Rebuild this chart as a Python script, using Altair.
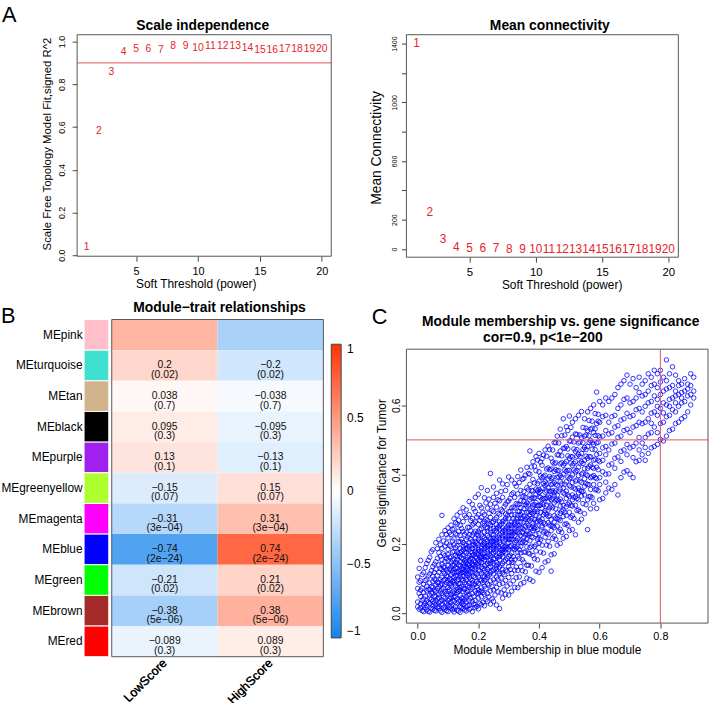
import altair as alt
import pandas as pd

FONT = "Liberation Sans"
MINUS = "\u2212"
FRAME = "#555555"

# ---------------- Panel A : soft threshold ----------------
powers = [1, 2, 3, 4, 5, 6, 7, 8, 9, 10, 11, 12, 13, 14, 15, 16, 17, 18, 19, 20]
scale_fit_r2 = [0.037, 0.583, 0.858, 0.950, 0.966, 0.966, 0.960, 0.977, 0.977, 0.972,
                0.980, 0.980, 0.977, 0.970, 0.960, 0.960, 0.965, 0.965, 0.965, 0.966]
mean_connectivity = [1405, 252, 67, 16, 8, 5, 3.5, 2.5, 2, 1.5,
                     1.2, 1, 0.8, 0.7, 0.6, 0.5, 0.4, 0.4, 0.3, 0.3]
r2_cutoff = 0.9
power_lim = [0.24, 20.76]
r2_lim = [-0.005, 1.032]
k_lim = [-56, 1461]

# ---------------- Panel B : module-trait heatmap ----------------
modules = ["MEpink", "MEturquoise", "MEtan", "MEblack", "MEpurple", "MEgreenyellow",
           "MEmagenta", "MEblue", "MEgreen", "MEbrown", "MEred"]
module_colors = ["#FFC0CB", "#40E0D0", "#D2B48C", "#000000", "#A020F0", "#ADFF2F",
                 "#FF00FF", "#0000FF", "#00FF00", "#A52A2A", "#FF0000"]
traits = ["LowScore", "HighScore"]
cor_lowscore = [0.36, 0.2, 0.038, 0.095, 0.13, -0.15, -0.31, -0.74, -0.21, -0.38, -0.089]
cor_highscore = [-0.36, -0.2, -0.038, -0.095, -0.13, 0.15, 0.31, 0.74, 0.21, 0.38, 0.089]
p_values = ["", "0.02", "0.7", "0.3", "0.1", "0.07", "3e-04", "2e-24", "0.02", "5e-06", "0.3"]
colorbar_ticks = [-1, -0.5, 0, 0.5, 1]

# ---------------- Panel C : MM vs GS scatter ----------------
mm_lim = [-0.037, 0.957]
gs_lim = [-0.029, 0.762]
mm_cutoff = 0.8
gs_cutoff = 0.5
mm_cols = [0.00, 0.01, 0.02, 0.03, 0.04, 0.05, 0.06, 0.07, 0.08, 0.09,
           0.10, 0.11, 0.12, 0.13, 0.14, 0.15, 0.16, 0.17, 0.18, 0.19,
           0.20, 0.21, 0.22, 0.23, 0.24, 0.25, 0.26, 0.27, 0.28, 0.29,
           0.30, 0.31, 0.32, 0.33, 0.34, 0.35, 0.36, 0.37, 0.38, 0.39,
           0.40, 0.41, 0.42, 0.43, 0.44, 0.45, 0.46, 0.47, 0.48, 0.49,
           0.50, 0.51, 0.52, 0.53, 0.54, 0.55, 0.56, 0.57, 0.58, 0.59,
           0.60, 0.61, 0.62, 0.63, 0.64, 0.65, 0.66, 0.67, 0.68, 0.69,
           0.70, 0.71, 0.72, 0.73, 0.74, 0.75, 0.76, 0.77, 0.78, 0.79,
           0.80, 0.81, 0.82, 0.83, 0.84, 0.85, 0.86, 0.87, 0.88, 0.89,
           0.90, 0.91]
gs_cols = [
    [0.032, 0.071, 0.104, 0.018],
    [0.015, 0.048, 0.093, 0.152, 0.027, 0.066],
    [0.004, 0.041, 0.083, 0.117, 0.059, 0.022],
    [0.009, 0.036, 0.064, 0.098, 0.143, 0.021, 0.077],
    [0.003, 0.027, 0.052, 0.087, 0.113, 0.161, 0.043, 0.068],
    [0.012, 0.034, 0.058, 0.074, 0.106, 0.134, 0.183, 0.021, 0.091],
    [0.006, 0.024, 0.047, 0.063, 0.095, 0.127, 0.148, 0.203, 0.035, 0.081],
    [0.013, 0.019, 0.044, 0.076, 0.088, 0.117, 0.139, 0.174, 0.213, 0.055, 0.029],
    [0.002, 0.026, 0.038, 0.057, 0.084, 0.103, 0.126, 0.154, 0.187, 0.226, 0.282, 0.067, 0.141],
    [0.011, 0.017, 0.043, 0.062, 0.081, 0.114, 0.132, 0.166, 0.193, 0.238, 0.097, 0.031, 0.149],
    [0.004, 0.023, 0.036, 0.052, 0.074, 0.093, 0.118, 0.137, 0.151, 0.184, 0.217, 0.246, 0.063, 0.105, 0.169],
    [0.014, 0.021, 0.045, 0.053, 0.078, 0.096, 0.112, 0.124, 0.147, 0.162, 0.193, 0.227, 0.254, 0.084, 0.133, 0.031],
    [0.003, 0.012, 0.034, 0.057, 0.064, 0.087, 0.103, 0.116, 0.138, 0.156, 0.178, 0.197, 0.214, 0.243, 0.272, 0.094, 0.125, 0.046],
    [0.008, 0.027, 0.041, 0.058, 0.073, 0.092, 0.108, 0.129, 0.144, 0.153, 0.176, 0.194, 0.226, 0.257, 0.283, 0.117, 0.066, 0.163],
    [0.002, 0.019, 0.036, 0.051, 0.067, 0.085, 0.104, 0.113, 0.136, 0.148, 0.164, 0.187, 0.206, 0.224, 0.253, 0.291, 0.122, 0.074, 0.174],
    [0.013, 0.024, 0.043, 0.062, 0.071, 0.094, 0.107, 0.126, 0.134, 0.157, 0.168, 0.183, 0.204, 0.236, 0.264, 0.304, 0.117, 0.143, 0.033, 0.192],
    [0.006, 0.032, 0.047, 0.059, 0.083, 0.096, 0.114, 0.123, 0.146, 0.154, 0.173, 0.196, 0.212, 0.233, 0.276, 0.298, 0.132, 0.104, 0.018, 0.186],
    [0.011, 0.022, 0.053, 0.074, 0.086, 0.103, 0.124, 0.137, 0.152, 0.167, 0.184, 0.203, 0.226, 0.247, 0.284, 0.322, 0.144, 0.113, 0.036, 0.193],
    [0.004, 0.034, 0.056, 0.073, 0.094, 0.116, 0.128, 0.143, 0.157, 0.174, 0.196, 0.207, 0.224, 0.254, 0.273, 0.314, 0.166, 0.137, 0.087, 0.186],
    [0.016, 0.037, 0.063, 0.084, 0.103, 0.118, 0.134, 0.147, 0.163, 0.178, 0.194, 0.216, 0.236, 0.263, 0.293, 0.334, 0.186, 0.126, 0.024, 0.206],
    [0.012, 0.043, 0.067, 0.086, 0.104, 0.124, 0.136, 0.153, 0.168, 0.183, 0.197, 0.214, 0.234, 0.256, 0.284, 0.343, 0.176, 0.144, 0.057, 0.224],
    [0.024, 0.047, 0.073, 0.093, 0.114, 0.133, 0.146, 0.163, 0.177, 0.193, 0.206, 0.226, 0.244, 0.276, 0.304, 0.362, 0.156, 0.186, 0.064],
    [0.021, 0.054, 0.077, 0.104, 0.123, 0.137, 0.154, 0.174, 0.186, 0.204, 0.217, 0.234, 0.253, 0.284, 0.333, 0.163, 0.194, 0.094, 0.264],
    [0.033, 0.056, 0.084, 0.103, 0.126, 0.143, 0.164, 0.176, 0.193, 0.207, 0.224, 0.246, 0.267, 0.303, 0.354, 0.184, 0.113, 0.236],
    [0.026, 0.064, 0.093, 0.116, 0.134, 0.153, 0.166, 0.183, 0.196, 0.214, 0.233, 0.254, 0.276, 0.314, 0.403, 0.204, 0.144, 0.243],
    [0.034, 0.067, 0.096, 0.124, 0.143, 0.156, 0.173, 0.194, 0.206, 0.226, 0.244, 0.264, 0.293, 0.334, 0.364, 0.184, 0.113, 0.216],
    [0.023, 0.074, 0.104, 0.126, 0.146, 0.164, 0.184, 0.197, 0.214, 0.234, 0.256, 0.276, 0.306, 0.346, 0.204, 0.136, 0.243],
    [0.013, 0.083, 0.114, 0.133, 0.154, 0.173, 0.186, 0.204, 0.226, 0.243, 0.263, 0.284, 0.324, 0.384, 0.214, 0.164, 0.253],
    [0.043, 0.086, 0.116, 0.143, 0.163, 0.184, 0.194, 0.214, 0.234, 0.246, 0.264, 0.294, 0.334, 0.373, 0.224, 0.174, 0.126],
    [0.054, 0.094, 0.124, 0.153, 0.174, 0.193, 0.213, 0.224, 0.243, 0.263, 0.286, 0.314, 0.354, 0.234, 0.184, 0.274],
    [0.052, 0.103, 0.134, 0.163, 0.184, 0.204, 0.223, 0.236, 0.254, 0.274, 0.293, 0.324, 0.393, 0.244, 0.146, 0.213],
    [0.063, 0.114, 0.146, 0.173, 0.194, 0.213, 0.234, 0.246, 0.263, 0.284, 0.304, 0.343, 0.384, 0.254, 0.224, 0.153],
    [0.074, 0.124, 0.154, 0.184, 0.204, 0.224, 0.243, 0.263, 0.284, 0.303, 0.334, 0.374, 0.256, 0.193, 0.234],
    [0.073, 0.123, 0.164, 0.193, 0.216, 0.234, 0.254, 0.274, 0.294, 0.314, 0.344, 0.394, 0.264, 0.176, 0.283],
    [0.084, 0.134, 0.174, 0.204, 0.224, 0.246, 0.263, 0.284, 0.304, 0.324, 0.354, 0.413, 0.274, 0.193],
    [0.088, 0.147, 0.176, 0.219, 0.241, 0.262, 0.279, 0.301, 0.322, 0.351, 0.389, 0.208, 0.337],
    [0.101, 0.138, 0.191, 0.213, 0.236, 0.258, 0.291, 0.309, 0.318, 0.362, 0.421, 0.276, 0.228],
    [0.097, 0.171, 0.209, 0.229, 0.268, 0.283, 0.297, 0.327, 0.341, 0.372, 0.468, 0.246, 0.401, 0.189],
    [0.092, 0.166, 0.218, 0.251, 0.259, 0.287, 0.312, 0.331, 0.353, 0.386, 0.437, 0.306, 0.238],
    [0.121, 0.179, 0.227, 0.247, 0.281, 0.299, 0.319, 0.342, 0.358, 0.411, 0.452, 0.263, 0.197],
    [0.118, 0.201, 0.229, 0.268, 0.277, 0.311, 0.336, 0.348, 0.381, 0.408, 0.461, 0.216, 0.357],
    [0.131, 0.196, 0.252, 0.271, 0.302, 0.317, 0.329, 0.361, 0.391, 0.427, 0.446, 0.248],
    [0.147, 0.219, 0.257, 0.289, 0.296, 0.331, 0.349, 0.368, 0.398, 0.471, 0.236, 0.379],
    [0.151, 0.228, 0.261, 0.297, 0.321, 0.338, 0.362, 0.387, 0.419, 0.482, 0.279, 0.207],
    [0.121, 0.168, 0.238, 0.269, 0.309, 0.327, 0.351, 0.371, 0.389, 0.447, 0.252, 0.416],
    [0.171, 0.247, 0.281, 0.318, 0.339, 0.348, 0.377, 0.409, 0.431, 0.492, 0.263, 0.222],
    [0.196, 0.251, 0.289, 0.327, 0.341, 0.369, 0.392, 0.411, 0.457, 0.511, 0.272],
    [0.201, 0.267, 0.309, 0.329, 0.358, 0.379, 0.397, 0.431, 0.468, 0.531, 0.288, 0.242],
    [0.216, 0.279, 0.311, 0.347, 0.361, 0.401, 0.427, 0.476, 0.561, 0.297],
    [0.221, 0.282, 0.331, 0.352, 0.379, 0.409, 0.438, 0.481, 0.538, 0.307, 0.258],
    [0.238, 0.291, 0.337, 0.368, 0.388, 0.412, 0.447, 0.497, 0.569, 0.318],
    [0.241, 0.309, 0.341, 0.377, 0.399, 0.427, 0.451, 0.508, 0.551, 0.327, 0.281],
    [0.226, 0.311, 0.358, 0.381, 0.408, 0.437, 0.467, 0.517, 0.561, 0.336],
    [0.262, 0.327, 0.361, 0.397, 0.421, 0.458, 0.491, 0.571, 0.347, 0.298],
    [0.271, 0.338, 0.377, 0.401, 0.437, 0.461, 0.507, 0.582, 0.352],
    [0.287, 0.341, 0.388, 0.417, 0.441, 0.478, 0.511, 0.561, 0.366],
    [0.241, 0.327, 0.371, 0.418, 0.447, 0.481, 0.527, 0.581, 0.397],
    [0.301, 0.357, 0.391, 0.428, 0.451, 0.498, 0.531, 0.591, 0.337],
    [0.317, 0.371, 0.418, 0.441, 0.487, 0.521, 0.601, 0.397],
    [0.302, 0.388, 0.421, 0.458, 0.491, 0.547, 0.638, 0.357],
    [0.327, 0.391, 0.437, 0.461, 0.508, 0.551, 0.611, 0.371],
    [0.331, 0.408, 0.441, 0.477, 0.511, 0.601, 0.567],
    [0.347, 0.401, 0.457, 0.481, 0.527, 0.571, 0.621, 0.378],
    [0.361, 0.427, 0.471, 0.517, 0.551, 0.611, 0.402],
    [0.357, 0.431, 0.488, 0.521, 0.567, 0.621],
    [0.371, 0.447, 0.491, 0.537, 0.571, 0.631, 0.418],
    [0.341, 0.451, 0.507, 0.541, 0.591, 0.651],
    [0.391, 0.467, 0.511, 0.557, 0.601, 0.661, 0.438],
    [0.407, 0.471, 0.527, 0.561, 0.617, 0.671],
    [0.411, 0.487, 0.531, 0.577, 0.621, 0.687, 0.457],
    [0.401, 0.477, 0.521, 0.567, 0.607, 0.661],
    [0.391, 0.481, 0.537, 0.571, 0.611, 0.677, 0.449],
    [0.437, 0.491, 0.541, 0.587, 0.621, 0.651],
    [0.441, 0.507, 0.551, 0.591, 0.637, 0.681, 0.471],
    [0.457, 0.491, 0.547, 0.581, 0.627, 0.661],
    [0.441, 0.507, 0.551, 0.597, 0.631, 0.671, 0.478],
    [0.461, 0.517, 0.561, 0.607, 0.641, 0.691],
    [0.477, 0.521, 0.577, 0.611, 0.657, 0.681, 0.548],
    [0.481, 0.537, 0.581, 0.627, 0.661, 0.701],
    [0.487, 0.521, 0.571, 0.617, 0.651, 0.691, 0.597],
    [0.501, 0.547, 0.591, 0.631, 0.667, 0.701],
    [0.497, 0.551, 0.607, 0.641, 0.681, 0.578],
    [0.511, 0.567, 0.601, 0.647, 0.671, 0.731],
    [0.527, 0.571, 0.617, 0.651, 0.691, 0.597],
    [0.531, 0.587, 0.621, 0.657, 0.711],
    [0.547, 0.581, 0.627, 0.641, 0.687, 0.607],
    [0.551, 0.597, 0.631, 0.657, 0.671],
    [0.561, 0.607, 0.637, 0.661, 0.621],
    [0.567, 0.611, 0.641, 0.677],
    [0.581, 0.627, 0.647, 0.661],
    [0.601, 0.631, 0.657, 0.691],
    [0.621, 0.641, 0.681],
]
# points lying between the columns above (dense part of the cloud)
mm_half = [0.005, 0.015, 0.025, 0.035, 0.045, 0.055, 0.065, 0.075, 0.085, 0.095,
           0.105, 0.115, 0.125, 0.135, 0.145, 0.155, 0.165, 0.175, 0.185, 0.195,
           0.205, 0.215, 0.225, 0.235, 0.245, 0.255, 0.265, 0.275, 0.285, 0.295,
           0.305, 0.315, 0.325, 0.335, 0.345, 0.355, 0.365, 0.375, 0.385, 0.395,
           0.405, 0.415, 0.425, 0.435, 0.445, 0.455, 0.465, 0.475, 0.485, 0.495,
           0.505, 0.515, 0.525, 0.535, 0.545, 0.555, 0.565, 0.575, 0.585, 0.595]
gs_half = [
    [0.011, 0.057, 0.089, 0.129],
    [0.007, 0.036, 0.072, 0.111],
    [0.016, 0.049, 0.094, 0.131, 0.028],
    [0.005, 0.031, 0.069, 0.107, 0.152],
    [0.014, 0.039, 0.076, 0.122, 0.177, 0.058],
    [0.008, 0.029, 0.066, 0.098, 0.141, 0.049, 0.117],
    [0.017, 0.041, 0.071, 0.109, 0.158, 0.186, 0.088],
    [0.006, 0.033, 0.061, 0.097, 0.129, 0.164, 0.197, 0.081],
    [0.015, 0.046, 0.072, 0.094, 0.133, 0.171, 0.208, 0.119],
    [0.007, 0.029, 0.056, 0.088, 0.124, 0.158, 0.202, 0.227, 0.107],
    [0.018, 0.041, 0.068, 0.099, 0.127, 0.161, 0.196, 0.233, 0.085],
    [0.009, 0.037, 0.061, 0.091, 0.118, 0.153, 0.176, 0.208, 0.241, 0.139],
    [0.019, 0.048, 0.079, 0.108, 0.131, 0.167, 0.189, 0.229, 0.261, 0.146],
    [0.006, 0.033, 0.063, 0.097, 0.121, 0.139, 0.171, 0.206, 0.236, 0.268, 0.084],
    [0.016, 0.044, 0.077, 0.098, 0.128, 0.159, 0.178, 0.213, 0.244, 0.117, 0.029],
    [0.009, 0.039, 0.068, 0.088, 0.119, 0.151, 0.176, 0.198, 0.227, 0.282, 0.138],
    [0.021, 0.052, 0.079, 0.109, 0.128, 0.161, 0.188, 0.219, 0.248, 0.141, 0.064],
    [0.014, 0.043, 0.069, 0.097, 0.131, 0.158, 0.177, 0.214, 0.238, 0.267, 0.119],
    [0.026, 0.048, 0.081, 0.107, 0.139, 0.169, 0.199, 0.231, 0.258, 0.301, 0.151],
    [0.019, 0.057, 0.091, 0.112, 0.141, 0.171, 0.201, 0.228, 0.277, 0.159, 0.076],
    [0.028, 0.061, 0.096, 0.121, 0.149, 0.179, 0.208, 0.241, 0.268, 0.161, 0.311],
    [0.031, 0.059, 0.088, 0.129, 0.158, 0.171, 0.198, 0.221, 0.259, 0.291, 0.107],
    [0.038, 0.071, 0.098, 0.139, 0.161, 0.189, 0.212, 0.247, 0.271, 0.118, 0.318],
    [0.047, 0.081, 0.109, 0.131, 0.169, 0.197, 0.219, 0.259, 0.288, 0.151, 0.329],
    [0.041, 0.076, 0.121, 0.148, 0.171, 0.188, 0.227, 0.261, 0.297, 0.208],
    [0.052, 0.089, 0.129, 0.157, 0.178, 0.211, 0.238, 0.271, 0.317, 0.198],
    [0.061, 0.098, 0.119, 0.161, 0.191, 0.219, 0.248, 0.288, 0.327, 0.141],
    [0.058, 0.101, 0.138, 0.169, 0.198, 0.229, 0.257, 0.298, 0.351, 0.181],
    [0.067, 0.111, 0.149, 0.178, 0.208, 0.239, 0.268, 0.307, 0.191],
    [0.078, 0.121, 0.158, 0.187, 0.219, 0.248, 0.281, 0.321, 0.371, 0.201],
    [0.084, 0.126, 0.167, 0.191, 0.232, 0.254, 0.293, 0.331, 0.214],
    [0.093, 0.146, 0.163, 0.211, 0.229, 0.272, 0.306, 0.347, 0.187],
    [0.102, 0.133, 0.188, 0.209, 0.251, 0.271, 0.316, 0.366, 0.236],
    [0.104, 0.158, 0.183, 0.231, 0.252, 0.293, 0.314, 0.377, 0.211],
    [0.122, 0.154, 0.203, 0.233, 0.274, 0.291, 0.336, 0.386, 0.246],
    [0.119, 0.176, 0.204, 0.251, 0.271, 0.313, 0.334, 0.398, 0.226],
    [0.138, 0.173, 0.226, 0.253, 0.292, 0.312, 0.356, 0.403, 0.272],
    [0.136, 0.193, 0.221, 0.273, 0.291, 0.332, 0.354, 0.422, 0.244],
    [0.157, 0.192, 0.244, 0.271, 0.313, 0.333, 0.376, 0.424, 0.293],
    [0.154, 0.213, 0.242, 0.293, 0.311, 0.353, 0.374, 0.442, 0.263],
    [0.176, 0.212, 0.264, 0.291, 0.334, 0.352, 0.396, 0.436, 0.312],
    [0.173, 0.234, 0.261, 0.313, 0.331, 0.374, 0.394, 0.456, 0.284],
    [0.196, 0.231, 0.284, 0.312, 0.353, 0.372, 0.416, 0.453, 0.333],
    [0.193, 0.254, 0.281, 0.333, 0.352, 0.394, 0.414, 0.472, 0.304],
    [0.216, 0.251, 0.304, 0.332, 0.373, 0.392, 0.436, 0.471, 0.353],
    [0.213, 0.274, 0.301, 0.353, 0.372, 0.414, 0.434, 0.492, 0.324],
    [0.236, 0.271, 0.324, 0.352, 0.393, 0.412, 0.456, 0.491],
    [0.233, 0.294, 0.321, 0.373, 0.392, 0.434, 0.454, 0.512],
    [0.256, 0.291, 0.344, 0.372, 0.413, 0.432, 0.476, 0.514],
    [0.253, 0.314, 0.341, 0.393, 0.412, 0.454, 0.474, 0.527],
    [0.276, 0.311, 0.364, 0.392, 0.433, 0.452, 0.496, 0.536],
    [0.273, 0.334, 0.361, 0.413, 0.432, 0.474, 0.494],
    [0.296, 0.331, 0.384, 0.412, 0.453, 0.472, 0.516],
    [0.293, 0.354, 0.381, 0.433, 0.452, 0.494, 0.514],
    [0.316, 0.351, 0.404, 0.432, 0.473, 0.492, 0.536],
    [0.313, 0.374, 0.401, 0.453, 0.472, 0.514, 0.534],
    [0.336, 0.371, 0.424, 0.452, 0.493, 0.512, 0.556],
    [0.333, 0.394, 0.421, 0.473, 0.492, 0.534, 0.554],
    [0.356, 0.391, 0.444, 0.472, 0.513, 0.532, 0.576],
    [0.353, 0.414, 0.441, 0.493, 0.512, 0.554, 0.574],
]

# ======================================================================
RED = "#E8232A"
LINE_RED = "#E8505A"
NOSTROKE = "transparent"


def num_label(v):
    return str(v).replace("-", MINUS)


def note(txt, x, y, size=14, weight="bold", align="center"):
    """Panel letters and panel titles, placed relative to the panel's plot box."""
    return alt.Chart(pd.DataFrame({"t": [txt]})).mark_text(
        fontSize=size, fontWeight=weight, align=align, baseline="alphabetic", color="black"
    ).encode(text="t:N", x=alt.value(x), y=alt.value(y))


def box(xs, ys, xscale, yscale):
    """Plot frame: vertical and horizontal edges at the plot-region limits."""
    dv = pd.DataFrame({"xe": [xs[0], xs[1]], "ya": [ys[0], ys[0]], "yb": [ys[1], ys[1]]})
    dh = pd.DataFrame({"ye": [ys[0], ys[1]], "xa": [xs[0], xs[0]], "xb": [xs[1], xs[1]]})
    vert = alt.Chart(dv).mark_rule(color=FRAME, strokeWidth=1).encode(
        x=alt.X("xe:Q", scale=xscale, axis=None),
        y=alt.Y("ya:Q", scale=yscale, axis=None), y2="yb:Q",
    )
    horiz = alt.Chart(dh).mark_rule(color=FRAME, strokeWidth=1).encode(
        y=alt.Y("ye:Q", scale=yscale, axis=None),
        x=alt.X("xa:Q", scale=xscale, axis=None), x2="xb:Q",
    )
    return [vert, horiz]


# ---------- A1: scale independence ----------
dfA = pd.DataFrame({"power": powers, "r2": scale_fit_r2, "k": mean_connectivity})
dfA["lab"] = dfA["power"].astype(str)
xA_scale = alt.Scale(domain=power_lim, nice=False, zero=False)


def x_power_axis(title_x, label_size):
    return alt.Axis(values=[5, 10, 15, 20], title="Soft Threshold (power)",
                    labelFontSize=label_size, labelPadding=4.5, titleFontSize=12,
                    titleX=title_x, titleY=28, titleBaseline="middle")


yA1_scale = alt.Scale(domain=r2_lim, nice=False, zero=False)
a1_text = alt.Chart(dfA).mark_text(color=RED, fontSize=10.5).encode(
    x=alt.X("power:Q", scale=xA_scale, axis=x_power_axis(120, 11)),
    y=alt.Y("r2:Q", scale=yA1_scale,
            axis=alt.Axis(values=[0, 0.2, 0.4, 0.6, 0.8, 1.0], format=".1f", labelAngle=-90,
                          labelAlign="center", labelBaseline="bottom", labelFontSize=9,
                          labelPadding=6, title="Scale Free Topology Model Fit,signed R^2",
                          titleFontSize=11.5, titleX=-30, titleY=110, titleBaseline="middle")),
    text="lab:N",
)
a1_rule = alt.Chart(pd.DataFrame({"c": [r2_cutoff]})).mark_rule(color=LINE_RED, strokeWidth=1).encode(
    y=alt.Y("c:Q", scale=yA1_scale, axis=None)
)
chartA1 = alt.layer(
    a1_text, a1_rule, *box(power_lim, r2_lim, xA_scale, yA1_scale),
    note("A", -76, -13, size=22, weight="normal", align="left"),
    note("Scale independence", 127, -5),
).resolve_axis(x="independent", y="independent").properties(
    width=257, height=224, view=alt.ViewBackground(stroke=NOSTROKE))

# ---------- A2: mean connectivity ----------
yA2_scale = alt.Scale(domain=k_lim, nice=False, zero=False)
a2_text = alt.Chart(dfA).mark_text(color=RED, fontSize=12).encode(
    x=alt.X("power:Q", scale=xA_scale, axis=x_power_axis(157, 11.5)),
    y=alt.Y("k:Q", scale=yA2_scale,
            axis=alt.Axis(values=[0, 200, 400, 600, 800, 1000, 1200, 1400], labelAngle=-90,
                          labelAlign="center", labelBaseline="bottom", labelFontSize=7,
                          labelPadding=4,
                          labelExpr="indexof([0, 200, 600, 1000, 1400], datum.value) >= 0 ? datum.label : ''",
                          format="d", title="Mean Connectivity", titleFontSize=14,
                          titleX=-30, titleY=114, titleBaseline="middle")),
    text="lab:N",
)
chartA2 = alt.layer(
    a2_text, *box(power_lim, k_lim, xA_scale, yA2_scale),
    note("Mean connectivity", 145, -5),
).resolve_axis(x="independent", y="independent").properties(
    width=275, height=225, view=alt.ViewBackground(stroke=NOSTROKE))

# ---------- B: module-trait heatmap (colour strip + cells in one view) ----------
rows = []
for m, lo, hi, p in zip(modules, cor_lowscore, cor_highscore, p_values):
    for t, v in zip(traits, [lo, hi]):
        lab = "" if p == "" else num_label(v) + "\n(" + p.replace("-", MINUS) + ")"
        rows.append({"module": m, "trait": t, "r": v, "label": lab})
df_heat = pd.DataFrame(rows)
df_mod = pd.DataFrame({"module": modules, "k": ["c"] * len(modules)})

STRIP_RANGE = [7, 32]
CELL_RANGE = [35, 249]

strip_rect = alt.Chart(df_mod).mark_rect(stroke="white", strokeWidth=1).encode(
    x=alt.X("k:N", scale=alt.Scale(range=STRIP_RANGE, paddingInner=0, paddingOuter=0), axis=None),
    y=alt.Y("module:N", sort=modules, scale=alt.Scale(paddingInner=0, paddingOuter=0),
            axis=alt.Axis(title=None, ticks=False, tickSize=0, domain=False, labelFontSize=12,
                          labelPadding=-5, labelColor="black")),
    color=alt.Color("module:N", scale=alt.Scale(domain=modules, range=module_colors),
                    legend=None),
)

heat_base = alt.Chart(df_heat).encode(
    x=alt.X("trait:N", sort=traits,
            scale=alt.Scale(range=CELL_RANGE, paddingInner=0, paddingOuter=0),
            axis=alt.Axis(title=None, orient="bottom", labelAngle=-45, labelAlign="right",
                          labelBaseline="middle", ticks=False, tickSize=0, domain=False,
                          labelFontSize=12.5, labelPadding=4)),
    y=alt.Y("module:N", sort=modules, scale=alt.Scale(paddingInner=0, paddingOuter=0), axis=None),
)
heat_rect = heat_base.mark_rect().encode(
    color=alt.Color(
        "r:Q",
        scale=alt.Scale(domain=[-1, 0, 1], range=["#1482EE", "#FFFFFF", "#FF3300"],
                        interpolate="rgb"),
        legend=alt.Legend(title=None, orient="none", legendX=257, legendY=25,
                          direction="vertical", gradientLength=297, gradientThickness=10,
                          values=colorbar_ticks,
                          labelExpr="replace(format(datum.value, ''), '-', '\u2212')",
                          labelFontSize=12, labelOffset=6, labelBaseline="middle",
                          gradientStrokeColor="#444444", gradientStrokeWidth=1),
    )
)
heat_text = heat_base.mark_text(fontSize=10.5, lineBreak="\n", lineHeight=9.5,
                                color="#111111").encode(text="label:N")
heat_frame = box([0, 1], [0, 1], alt.Scale(domain=[0, 1], range=CELL_RANGE),
                 alt.Scale(domain=[0, 1]))
chartB = alt.layer(
    strip_rect, heat_rect, heat_text, *heat_frame,
    note("B", -77, 4, size=22, weight="normal", align="left"),
    note("Module\u2212trait relationships", 144, -8),
).resolve_scale(x="independent", y="independent", color="independent").properties(
    width=249, height=341, view=alt.ViewBackground(stroke=NOSTROKE),
)

# ---------- C: scatter ----------
mm_vals, gs_vals = [], []
for xs_list, ys_list in ((mm_cols, gs_cols), (mm_half, gs_half)):
    for xv, ys in zip(xs_list, ys_list):
        for yv in ys:
            mm_vals.append(xv)
            gs_vals.append(yv)
df_c = pd.DataFrame({"mm": mm_vals, "gs": gs_vals})

C_TOP_GAP = 30  # pixels between the top of panel B and the plot box of panel C
C_H = 277
gs_top = gs_lim[1] + C_TOP_GAP * (gs_lim[1] - gs_lim[0]) / C_H
xC_scale = alt.Scale(domain=mm_lim, nice=False, zero=False)
yC_scale = alt.Scale(domain=[gs_lim[0], gs_top], nice=False, zero=False)

c_pts = alt.Chart(df_c).mark_point(shape="circle", filled=False, color="#0000FF", size=21,
                                   strokeWidth=1, opacity=0.8).encode(
    x=alt.X("mm:Q", scale=xC_scale,
            axis=alt.Axis(values=[0, 0.2, 0.4, 0.6, 0.8], format=".1f",
                          title="Module Membership in blue module", labelFontSize=11,
                          labelPadding=3, titleFontSize=12, titleX=142, titleY=27,
                          titleBaseline="middle")),
    y=alt.Y("gs:Q", scale=yC_scale,
            axis=alt.Axis(values=[0, 0.2, 0.4, 0.6], format=".1f", labelAngle=-90,
                          labelAlign="center", labelBaseline="bottom", labelFontSize=10.5,
                          labelPadding=0, title="Gene significance for  Tumor",
                          titleFontSize=12, titleX=-25, titleY=155, titleBaseline="middle")),
)
df_cut = pd.DataFrame({"x0": [mm_lim[0]], "x1": [mm_lim[1]], "y0": [gs_lim[0]], "y1": [gs_lim[1]],
                       "xc": [mm_cutoff], "yc": [gs_cutoff]})
c_v = alt.Chart(df_cut).mark_rule(color=LINE_RED, strokeWidth=1).encode(
    x=alt.X("xc:Q", scale=xC_scale, axis=None),
    y=alt.Y("y0:Q", scale=yC_scale, axis=None), y2="y1:Q"
)
c_h = alt.Chart(df_cut).mark_rule(color=LINE_RED, strokeWidth=1).encode(
    y=alt.Y("yc:Q", scale=yC_scale, axis=None),
    x=alt.X("x0:Q", scale=xC_scale, axis=None), x2="x1:Q"
)
chartC = alt.layer(
    c_pts, c_v, c_h, *box(mm_lim, gs_lim, xC_scale, yC_scale),
    note("C", -35, 5, size=22, weight="normal", align="left"),
    note("Module membership vs. gene significance", 156, 7),
    note("cor=0.9, p<1e\u2212200", 138, 23),
).resolve_axis(x="independent", y="independent").properties(
    width=305, height=C_H + C_TOP_GAP, view=alt.ViewBackground(stroke=NOSTROKE))

chart = alt.concat(
    chartA1, chartA2, chartB, chartC,
    columns=2, spacing={"row": 63, "column": 76}, bounds="flush", align="none",
).properties(
    padding={"left": 0, "top": 0, "right": 0, "bottom": 20}
).configure(font=FONT).configure_view(strokeWidth=0).configure_axis(
    grid=False, domain=False, tickColor="#444444", tickSize=5, labelColor="black",
    titleColor="black", titleFontWeight="normal", labelFont=FONT, titleFont=FONT
).configure_legend(labelFont=FONT, labelColor="black")

chart.save("out.html", embed_options={"renderer": "svg", "actions": False})
